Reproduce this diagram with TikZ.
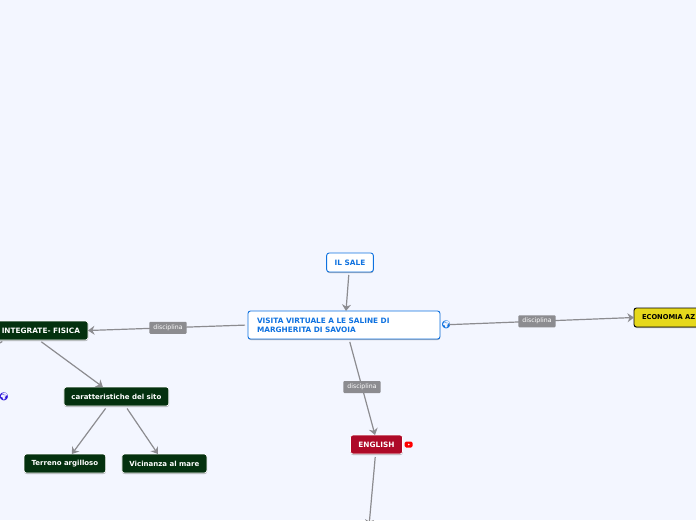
\documentclass[tikz,border=0pt]{standalone}
\usepackage{fontspec}
\setmainfont{DejaVu Sans}
\newfontfamily\emojifont{Noto Emoji}
\usepackage{tikz}
\usetikzlibrary{arrows.meta,positioning,shadows}
\definecolor{pagebg}{HTML}{F3F6FF}
\definecolor{mapblue}{HTML}{0F72E0}
\definecolor{mapgreen}{HTML}{04310F}
\definecolor{mapred}{HTML}{AE0A28}
\definecolor{mapyellow}{HTML}{E6D81C}
\definecolor{edgegray}{HTML}{8C8C90}
\definecolor{webblue}{HTML}{2A10D8}

\begin{document}
\begin{tikzpicture}[
    x=1pt, y=-1pt,
    box/.style={rounded corners=2.5pt, minimum height=19pt, inner xsep=8pt, inner ysep=2pt, outer sep=0pt,
                font=\fontsize{7.35}{9}\selectfont\bfseries,
                drop shadow={shadow xshift=0.2pt, shadow yshift=-1pt, fill=black, opacity=0.3}},
    bluebox/.style={box, fill=white, draw=mapblue, line width=0.9pt, text=mapblue},
    greenbox/.style={box, fill=mapgreen, draw=white, line width=0.7pt, text=white},
    sitebox/.style={greenbox, inner xsep=7.5pt, font=\fontsize{7}{9}\selectfont\bfseries},
    redbox/.style={box, fill=mapred, draw=white, line width=0.7pt, text=white},
    yellowbox/.style={box, fill=mapyellow, draw=black, line width=0.9pt, text=black,
                      font=\fontsize{6.7}{9}\selectfont\bfseries},
    arr/.style={-{Stealth[length=6.5pt, width=9pt]}, line width=1.2pt, edgegray, shorten <=3pt},
    lbl/.style={fill=edgegray, rounded corners=1pt, text=white, inner xsep=4pt, inner ysep=3pt,
                font=\fontsize{6.2}{7}\selectfont},
    globe/.style={font=\emojifont\fontsize{8}{8}\selectfont, inner sep=0pt}
]
\useasboundingbox (0,0) rectangle (696,520);
\fill[pagebg] (0,0) rectangle (696,520);
\clip (0,0) rectangle (696,520);

% --- Centre node and its neighbours ---
\node[bluebox, minimum width=192pt, text width=174pt, inner xsep=9pt, align=left, minimum height=28pt] (saline) at (344,325)
    {VISITA VIRTUALE A LE SALINE DI\\MARGHERITA DI SAVOIA};
\node[bluebox, above=39pt of saline, xshift=6pt] (sale) {IL SALE};
\node[yellowbox, right=194pt of saline, yshift=7.5pt] (economia) {ECONOMIA AZ};
\node[greenbox, left=160pt of saline, yshift=-5.5pt] (fisica) {INTEGRATE- FISICA};
\node[redbox, below=96pt of saline, xshift=32.5pt] (english) {ENGLISH};

% --- Left branch ---
\node[sitebox, below=47pt of fisica, xshift=75.5pt] (sito) {caratteristiche del sito};
\node[sitebox, below=48pt of sito, xshift=-51.5pt] (terreno) {Terreno argilloso};
\node[sitebox, below=48pt of sito, xshift=48pt] (mare) {Vicinanza al mare};

% Ends that run out of the page
\coordinate (fisicaout) at (-9,348);
\coordinate (englishout) at (369,526);

% Icons
\node[globe, text=mapblue, right=1pt of saline] (sitelink) {🌍};
\node[globe, text=webblue] (fisicalink) at (4,396.5) {🌍};
\node[fill=red, rounded corners=1.5pt, minimum width=8pt, minimum height=6pt, inner sep=0pt, right=2pt of english] (video) {};
\node[fill=white, circle, minimum size=1.6pt, inner sep=0pt] (videodot) at (video) {};

\draw[arr] (sale.south) ++(-1,0) -- ([xshift=2pt]saline.north);
\draw[arr] (saline.west) -- node[lbl, midway] {disciplina} (fisica.east);
\draw[arr, shorten <=9pt] (saline.east) -- node[lbl, midway] {disciplina} (economia.west);
\draw[arr] ([xshift=5pt]saline.south) -- node[lbl, midway] {disciplina} ([xshift=-1.5pt]english.north);
\draw[arr] ([xshift=-2pt]fisica.south) -- ([xshift=-13.5pt]sito.north);
\draw[arr] ([xshift=-36pt]fisica.south) -- (fisicaout);
\draw[arr] ([xshift=-9pt]sito.south) -- ([xshift=7pt]terreno.north);
\draw[arr] ([xshift=9pt]sito.south) -- ([xshift=-6.5pt]mare.north);
\draw[arr] ([xshift=-1pt]english.south) -- (englishout);

\end{tikzpicture}
\end{document}
